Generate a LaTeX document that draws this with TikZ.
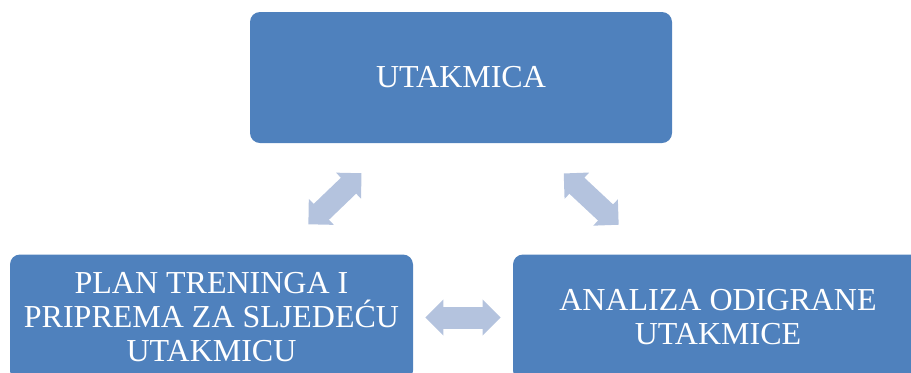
\documentclass[tikz,border=0pt]{standalone}
\usepackage{fontspec}
\setmainfont{Liberation Serif}
\usetikzlibrary{arrows.meta}

\definecolor{boxblue}{RGB}{79,129,189}
\definecolor{linkblue}{RGB}{180,195,222}

\begin{document}
\begin{tikzpicture}[x=0.5pt, y=-0.5pt,
    box/.style={fill=boxblue, rounded corners=5pt, text=white, align=center,
        font=\fontsize{16pt}{17pt}\selectfont, inner sep=0pt},
    link/.style={linkblue, line width=11pt,
        {Triangle[length=9pt, width=17.5pt]}-{Triangle[length=9pt, width=17.5pt]}}]
    \useasboundingbox (0,0) rectangle (911,372);
    \clip (0,0) rectangle (911,372);

    % Top: the match
    \node[box, minimum width=211pt, minimum height=65.5pt] (utakmica) at (461,77.5) {UTAKMICA};

    % Bottom left and right
    \node[box, minimum width=201.5pt, minimum height=63pt] (plan) at (211.5,317.5)
        {PLAN TRENINGA I\\PRIPREMA ZA SLJEDEĆU\\UTAKMICU};
    \node[box, minimum width=205pt, minimum height=63pt] (analiza) at (718,317.5)
        {ANALIZA ODIGRANE\\UTAKMICE};

    % Two-way arrows
    \draw[link, shorten <=21.5pt, shorten >=21.5pt] (plan) -- (utakmica);
    \draw[link, shorten <=22pt, shorten >=21.5pt] (utakmica) -- (analiza);
    \draw[link, shorten <=6pt, shorten >=6pt] (plan) -- (analiza);
\end{tikzpicture}
\end{document}
